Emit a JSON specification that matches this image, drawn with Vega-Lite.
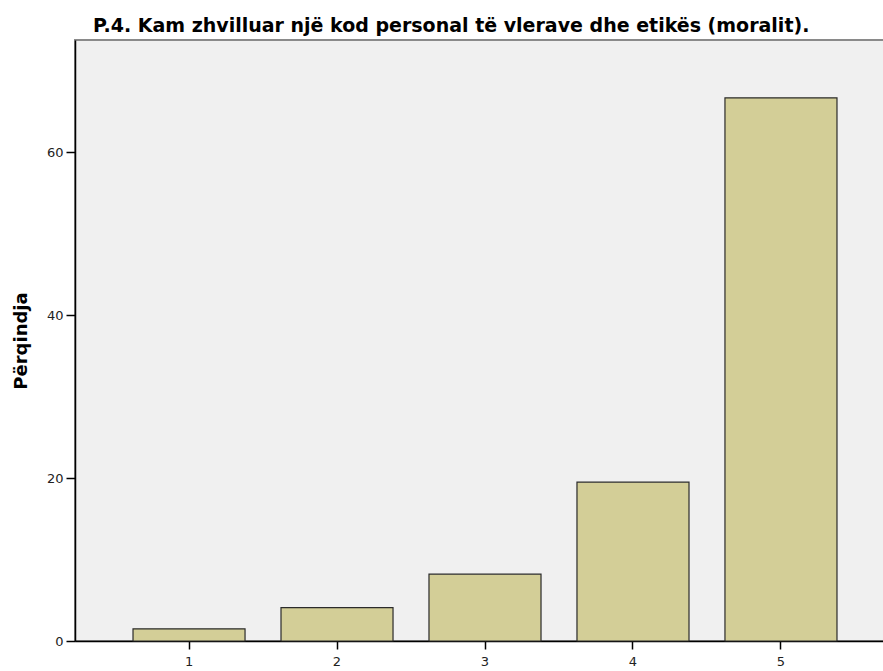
{
  "$schema": "https://vega.github.io/schema/vega-lite/v6.json",
  "autosize": "none",
  "padding": {"left": 75, "top": 40, "right": 0, "bottom": 30},
  "width": 820,
  "height": 601,
  "background": "white",
  "title": {
    "text": "P.4. Kam zhvilluar një kod personal të vlerave dhe etikës (moralit).",
    "font": "DejaVu Sans",
    "fontSize": 19,
    "fontWeight": "bold",
    "color": "#000000",
    "anchor": "start",
    "frame": "group",
    "dx": 18,
    "offset": 4
  },
  "config": {
    "view": {"fill": "#F0F0F0", "stroke": "#8a8a8a", "strokeWidth": 2},
    "axis": {
      "labelFont": "DejaVu Sans",
      "labelFontSize": 13,
      "labelColor": "#222222",
      "titleFont": "DejaVu Sans",
      "domainColor": "#000000",
      "domainWidth": 1.5,
      "tickColor": "#000000",
      "tickWidth": 1.5,
      "grid": false
    }
  },
  "data": {
    "values": [
      {"kategoria": "1", "perqindja": 1.5},
      {"kategoria": "2", "perqindja": 4.1},
      {"kategoria": "3", "perqindja": 8.2},
      {"kategoria": "4", "perqindja": 19.5},
      {"kategoria": "5", "perqindja": 66.7}
    ]
  },
  "mark": {"type": "bar", "fill": "#D3CE97", "stroke": "#2b2b2b", "strokeWidth": 1.2},
  "encoding": {
    "x": {
      "field": "kategoria",
      "type": "ordinal",
      "scale": {"paddingInner": 0.243, "paddingOuter": 0.392, "align": 0.5},
      "axis": {"title": null, "labelAngle": 0, "tickSize": 8, "labelPadding": 6}
    },
    "y": {
      "field": "perqindja",
      "type": "quantitative",
      "scale": {"domain": [0, 73.8], "nice": false},
      "axis": {
        "values": [0, 20, 40, 60],
        "title": "Përqindja",
        "titleFontSize": 18,
        "titleFontWeight": "bold",
        "titleColor": "#000000",
        "titlePadding": 16,
        "tickSize": 9,
        "labelPadding": 3
      }
    }
  }
}
